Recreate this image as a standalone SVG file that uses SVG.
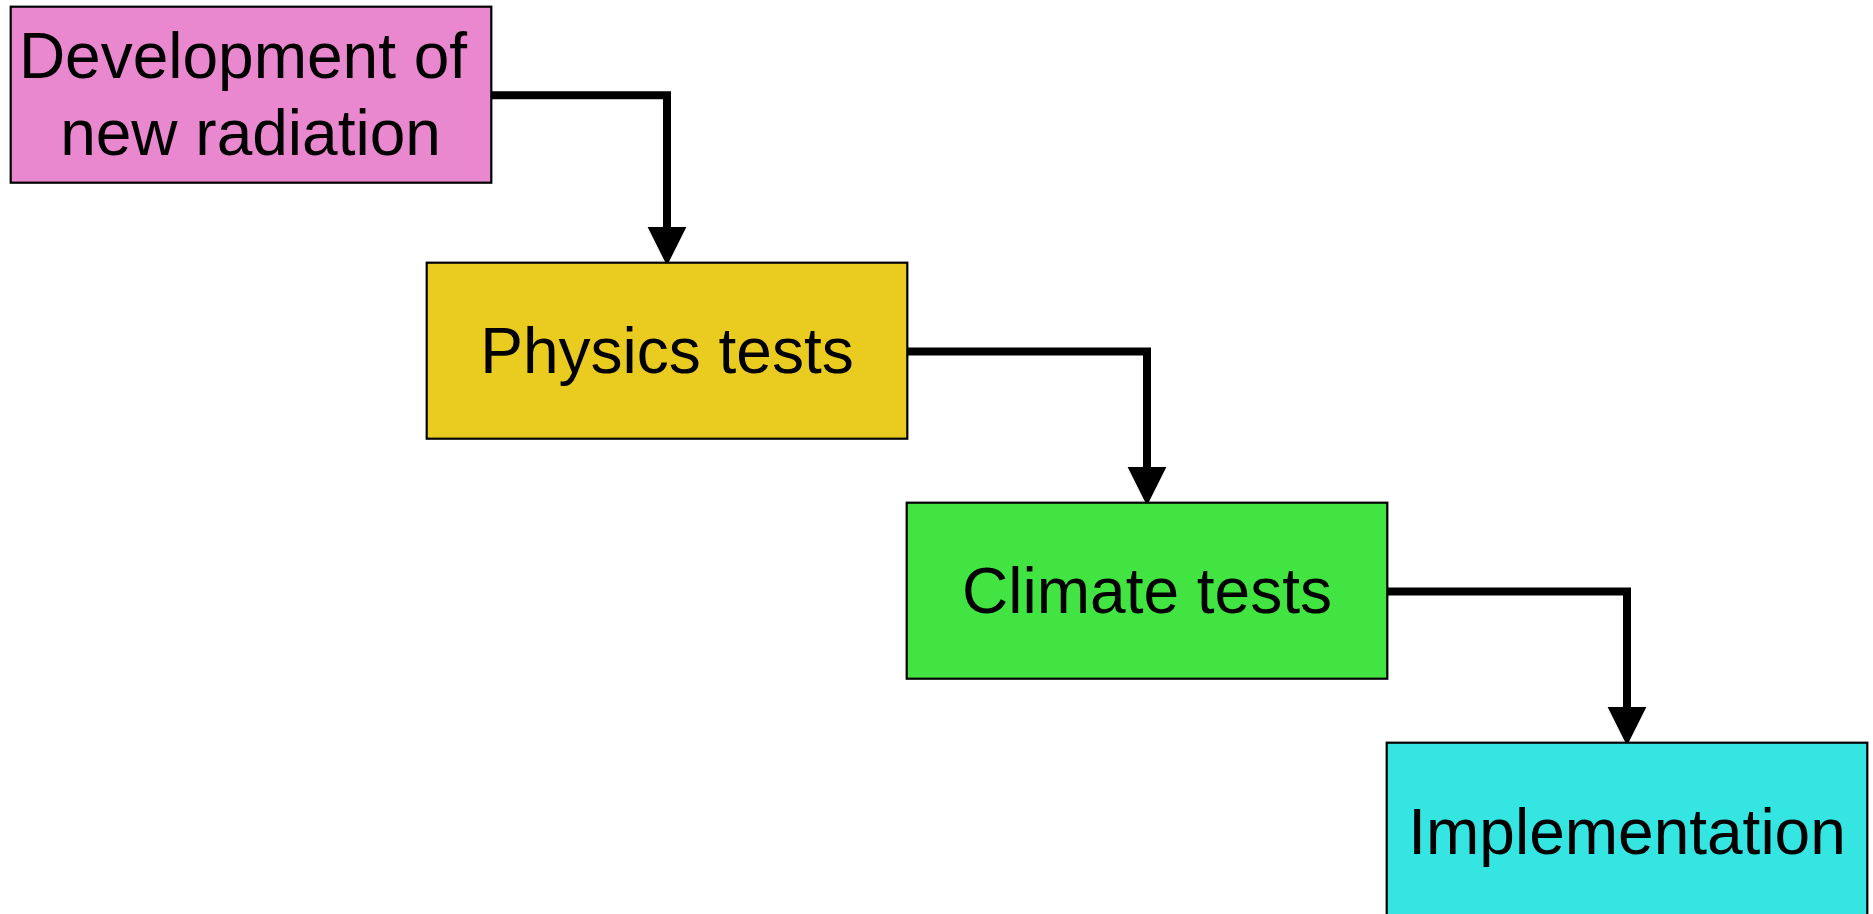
<svg xmlns="http://www.w3.org/2000/svg" width="1873" height="914" viewBox="0 0 1873 914">
<style>
.box{stroke:#000;stroke-width:2.2}
.lbl{font-family:"Liberation Sans",Arial,sans-serif;font-size:64px;fill:#000;text-anchor:middle}
.conn{fill:none;stroke:#000;stroke-width:8;stroke-linejoin:miter}
</style>
<defs>
<marker id="arr" markerUnits="userSpaceOnUse" markerWidth="40" markerHeight="40" viewBox="0 0 36 36" refX="1" refY="17.5" orient="auto">
<path d="M0,0 L35,17.5 L0,35 z" fill="#000"/>
</marker>
</defs>
<rect width="1873" height="914" fill="#fff"/>
<g id="connectors">
<path class="conn" d="M491,95.3 H667 V228" marker-end="url(#arr)"/>
<path class="conn" d="M907,351.5 H1147 V468" marker-end="url(#arr)"/>
<path class="conn" d="M1387,591.5 H1627 V708" marker-end="url(#arr)"/>
</g>
<g id="node-development">
<rect class="box" x="10.7" y="6.7" width="480.6" height="176" fill="#E988CE"/>
<text class="lbl" x="243" y="78">Development of</text>
<text class="lbl" x="250.5" y="155">new radiation</text>
</g>
<g id="node-physics">
<rect class="box" x="426.7" y="262.7" width="480.6" height="176" fill="#EACC20"/>
<text class="lbl" x="667" y="373">Physics tests</text>
</g>
<g id="node-climate">
<rect class="box" x="906.7" y="502.7" width="480.6" height="176" fill="#41E440"/>
<text class="lbl" x="1147" y="613">Climate tests</text>
</g>
<g id="node-implementation">
<rect class="box" x="1386.7" y="742.7" width="480.6" height="176" fill="#34E5E1"/>
<text class="lbl" x="1627" y="854">Implementation</text>
</g>
</svg>
